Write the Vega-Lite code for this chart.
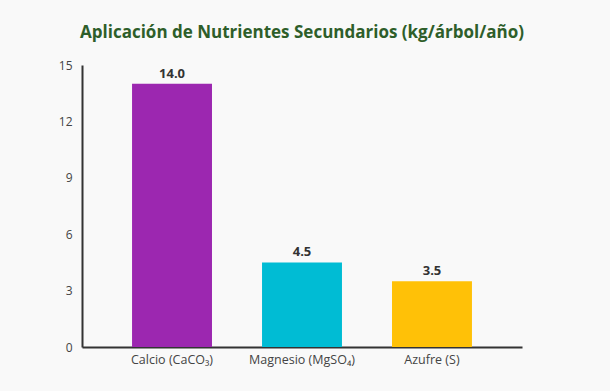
{
  "$schema": "https://vega.github.io/schema/vega-lite/v6.json",
  "width": 440,
  "height": 282,
  "autosize": "none",
  "padding": {"left": 82, "top": 65, "right": 88, "bottom": 44},
  "background": "#f9f9f9",
  "title": {
    "text": "Aplicación de Nutrientes Secundarios (kg/árbol/año)",
    "color": "#2e5e2a",
    "font": "Open Sans",
    "fontSize": 17,
    "fontWeight": "bold",
    "anchor": "middle",
    "offset": 17
  },
  "config": {
    "view": {"stroke": null},
    "font": "Open Sans"
  },
  "data": {
    "values": [
      {"nutriente": "Calcio (CaCO₃)", "valor": 14.0, "color": "#9c27b0"},
      {"nutriente": "Magnesio (MgSO₄)", "valor": 4.5, "color": "#00bcd4"},
      {"nutriente": "Azufre (S)", "valor": 3.5, "color": "#ffc107"}
    ]
  },
  "encoding": {
    "x": {
      "field": "nutriente",
      "type": "nominal",
      "sort": null,
      "scale": {"paddingInner": 0.385, "paddingOuter": 0.385},
      "axis": {
        "title": null,
        "labelAngle": 0,
        "ticks": false,
        "domainColor": "#333333",
        "domainWidth": 2,
        "labelColor": "#444444",
        "labelFontSize": 12.5,
        "labelPadding": 6
      }
    },
    "y": {
      "field": "valor",
      "type": "quantitative",
      "scale": {"domain": [0, 15], "nice": false},
      "axis": {
        "title": null,
        "values": [0, 3, 6, 9, 12, 15],
        "grid": false,
        "ticks": false,
        "domainColor": "#333333",
        "domainWidth": 2,
        "labelColor": "#444444",
        "labelFontSize": 12,
        "labelPadding": 10
      }
    }
  },
  "layer": [
    {
      "mark": {"type": "bar"},
      "encoding": {
        "color": {"field": "color", "type": "nominal", "scale": null}
      }
    },
    {
      "mark": {"type": "text", "dy": -10, "fontWeight": "bold", "fontSize": 13, "color": "#333333"},
      "encoding": {
        "text": {"field": "valor", "type": "quantitative", "format": ".1f"}
      }
    }
  ]
}
